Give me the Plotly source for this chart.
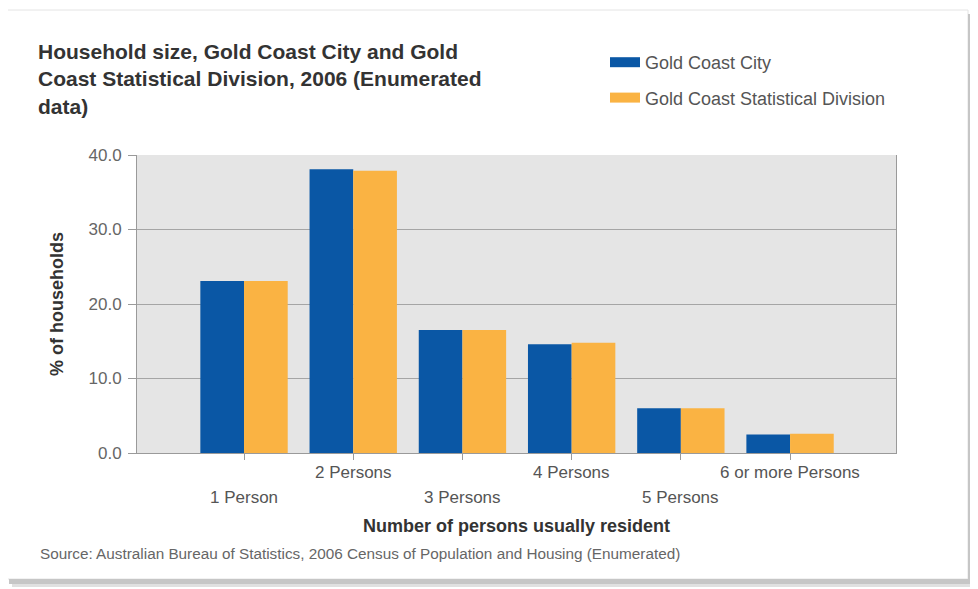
import plotly.graph_objects as go

# ---------------- data ----------------
categories = ["1 Person", "2 Persons", "3 Persons", "4 Persons", "5 Persons", "6 or more Persons"]
gold_coast_city = [23.1, 38.1, 16.5, 14.6, 6.0, 2.5]
gold_coast_sd = [23.1, 37.9, 16.5, 14.8, 6.0, 2.6]
series_names = ["Gold Coast City", "Gold Coast Statistical Division"]
y_tick_values = [0, 10, 20, 30, 40]
y_tick_labels = ["0.0", "10.0", "20.0", "30.0", "40.0"]

title_text = ("Household size, Gold Coast City and Gold<br>"
              "Coast Statistical Division, 2006 (Enumerated<br>data)")
x_title = "Number of persons usually resident"
y_title = "% of households"
source_text = "Source: Australian Bureau of Statistics, 2006 Census of Population and Housing (Enumerated)"

# ---------------- style ----------------
OFF = 8                     # page body margin
W, H = 978 - OFF, 589 - OFF
PL, PR, PT, PB = 137, 896, 155, 453   # plot area in reference pixels
BLUE = "#0a57a5"
ORANGE = "#fab343"
FONT = "Liberation Sans, Arial, sans-serif"


def px_x(px):
    return (px - PL) / (PR - PL)


def px_y(py):
    return (PB - py) / (PB - PT)


fig = go.Figure()
fig.add_trace(go.Bar(x=categories, y=gold_coast_city, name=series_names[0],
                     marker=dict(color=BLUE, line=dict(width=0)), showlegend=False))
fig.add_trace(go.Bar(x=categories, y=gold_coast_sd, name=series_names[1],
                     marker=dict(color=ORANGE, line=dict(width=0)), showlegend=False))

# legend keys (wide swatches)
for nm, col in zip(series_names, [BLUE, ORANGE]):
    fig.add_trace(go.Scatter(x=[None], y=[None], mode="lines", name=nm,
                             legendgroup=nm, line=dict(color=col, width=14),
                             hoverinfo="skip"))

annotations = []
for i, cat in enumerate(categories):
    annotations.append(dict(x=cat, xref="x", y=0, yref="paper", yanchor="top",
                            xanchor="center", yshift=(-8 if i % 2 else -33),
                            text=cat, showarrow=False,
                            font=dict(size=17, color="#555555", family=FONT)))
annotations.append(dict(x=px_x(38), xref="paper", xanchor="left",
                        y=px_y(553), yref="paper", yanchor="middle",
                        text=source_text, showarrow=False,
                        font=dict(size=15.3, color="#666666", family=FONT)))

shapes = [
    # card border
    dict(type="rect", xref="paper", yref="paper", x0=px_x(5), x1=px_x(968),
         y0=px_y(579), y1=px_y(10), line=dict(color="#e4e4e4", width=1),
         fillcolor="rgba(0,0,0,0)", layer="below"),
    # shadow right
    dict(type="rect", xref="paper", yref="paper", x0=px_x(968), x1=px_x(973),
         y0=px_y(584), y1=px_y(14), line=dict(width=0), fillcolor="#c6c6c6", layer="below"),
    dict(type="rect", xref="paper", yref="paper", x0=px_x(973), x1=px_x(977),
         y0=px_y(587), y1=px_y(17), line=dict(width=0), fillcolor="#e0e0e0", layer="below"),
    # shadow bottom
    dict(type="rect", xref="paper", yref="paper", x0=px_x(9), x1=px_x(973),
         y0=px_y(584), y1=px_y(579), line=dict(width=0), fillcolor="#c6c6c6", layer="below"),
    dict(type="rect", xref="paper", yref="paper", x0=px_x(12), x1=px_x(977),
         y0=px_y(587), y1=px_y(584), line=dict(width=0), fillcolor="#e0e0e0", layer="below"),
]

fig.update_layout(
    width=W, height=H,
    margin=dict(l=PL - OFF, r=W - (PR - OFF), t=PT - OFF, b=H - (PB - OFF), autoexpand=False),
    paper_bgcolor="white", plot_bgcolor="#e5e5e5",
    font=dict(family=FONT, color="#555555"),
    barmode="group", bargap=0.2, bargroupgap=0,
    title=dict(text="<b>" + title_text + "</b>", xref="container", x=(38 - OFF) / W, xanchor="left",
               yref="container", y=1 - 51 / H, yanchor="top",
               font=dict(size=21, color="#333333", family=FONT)),
    legend=dict(x=px_x(605), y=px_y(44), xanchor="left", yanchor="top",
                font=dict(size=18, color="#555555", family=FONT),
                traceorder="grouped", tracegroupgap=9, itemwidth=30,
                bgcolor="rgba(0,0,0,0)"),
    xaxis=dict(type="category", range=[-0.98, 5.97], showticklabels=False,
               ticks="outside", ticklen=6, tickcolor="#9a9a9a",
               showline=True, linecolor="#9a9a9a", linewidth=1, showgrid=False,
               zeroline=False,
               title=dict(text="<b>" + x_title + "</b>", standoff=60,
                          font=dict(size=18, color="#333333", family=FONT))),
    yaxis=dict(range=[0, 40], tickvals=y_tick_values, ticktext=y_tick_labels,
               ticks="outside", ticklen=8, tickcolor="#9a9a9a", ticklabelstandoff=3,
               tickfont=dict(size=17, color="#666666", family=FONT),
               showline=True, mirror=True, linecolor="#9a9a9a", linewidth=1,
               gridcolor="#a5a5a5", gridwidth=1, zeroline=False,
               title=dict(text="<b>" + y_title + "</b>", standoff=20,
                          font=dict(size=18, color="#333333", family=FONT))),
    annotations=annotations,
    shapes=shapes,
)

fig.write_html("out.html")
